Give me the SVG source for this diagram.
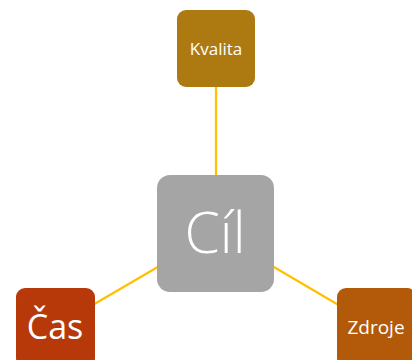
<svg xmlns="http://www.w3.org/2000/svg" width="412" height="360" viewBox="0 0 412 360">
<style>
.node text{font-family:"Open Sans","Noto Sans",sans-serif;fill:#fff;text-anchor:middle}
.conn line{stroke:#FFC000;stroke-width:2.2}
</style>
<rect width="412" height="360" fill="#fff"/>
<g id="connectors" class="conn">
<line x1="216" y1="48" x2="216" y2="233"/>
<line x1="55" y1="327" x2="216" y2="233"/>
<line x1="376" y1="327" x2="216" y2="233"/>
</g>
<g id="kvalita" class="node">
<rect x="177" y="10" width="78" height="77" rx="9" fill="#AD7A12"/>
<text x="216" y="55" font-size="17">Kvalita</text>
</g>
<g id="cil" class="node">
<rect x="157" y="175" width="117" height="117" rx="13" fill="#A5A5A5"/>
<text x="215" y="253" font-size="57" font-weight="300">Cíl</text>
</g>
<g id="cas" class="node">
<rect x="16" y="288" width="79" height="79" rx="9" fill="#B7390A"/>
<text x="55" y="339" font-size="34">Čas</text>
</g>
<g id="zdroje" class="node">
<rect x="337" y="288" width="79" height="79" rx="9" fill="#B25A0A"/>
<text x="376" y="334" font-size="19">Zdroje</text>
</g>
</svg>
